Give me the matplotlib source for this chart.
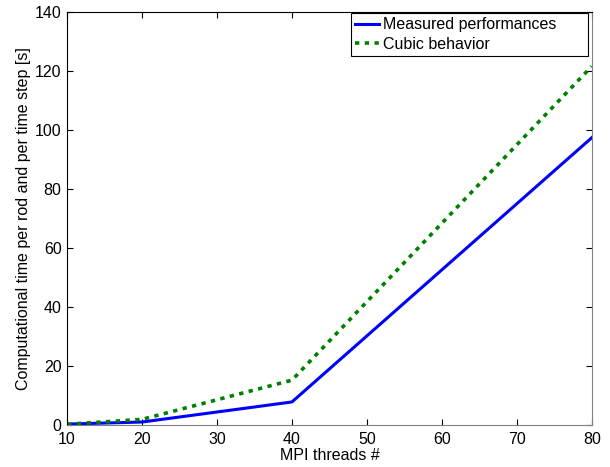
import matplotlib
matplotlib.use("Agg")
import matplotlib.pyplot as plt

plt.rcParams["font.family"] = ["Liberation Sans", "DejaVu Sans"]

threads = [10, 20, 40, 80]
measured = [0.3, 1.0, 7.8, 97.4]
cubic = [0.24, 1.9, 15.2, 121.6]

xticks = [10, 20, 30, 40, 50, 60, 70, 80]
yticks = [0, 20, 40, 60, 80, 100, 120, 140]

fig = plt.figure(figsize=(6.1, 4.67), dpi=100)
ax = fig.add_axes([0.110, 0.090, 0.860, 0.884])

# trailing spaces mimic the roomy MATLAB legend box
ax.plot(threads, measured, color="#0000ff", linewidth=2.2, label="Measured performances      ")
ax.plot(threads, cubic, color="#008000", linewidth=2.6, linestyle=(0, (1.2, 1.5)), label="Cubic behavior")

ax.set_xlim(10, 80)
ax.set_ylim(0, 140)
ax.set_xticks(xticks)
ax.set_yticks(yticks)
ax.tick_params(direction="in", top=True, right=True, labelsize=11.5, length=4, width=0.8)
ax.tick_params(axis="x", pad=5)
ax.tick_params(axis="y", pad=4)
for side in ["bottom", "right"]:
    ax.spines[side].set_color("#808080")
for side in ["left", "top"]:
    ax.spines[side].set_color("black")

ax.set_xlabel("MPI threads #", fontsize=11.5, labelpad=1)
ax.set_ylabel("Computational time per rod and per time step [s]", fontsize=11.5, labelpad=3)

leg = ax.legend(loc="upper right", bbox_to_anchor=(0.9924, 0.9976), fontsize=11.5,
                fancybox=False, framealpha=1, edgecolor="black", borderaxespad=0,
                handlelength=1.5, handletextpad=0.3, borderpad=0.25, labelspacing=0.3)
leg.get_frame().set_linewidth(0.8)

fig.savefig("out.png", dpi=100)
